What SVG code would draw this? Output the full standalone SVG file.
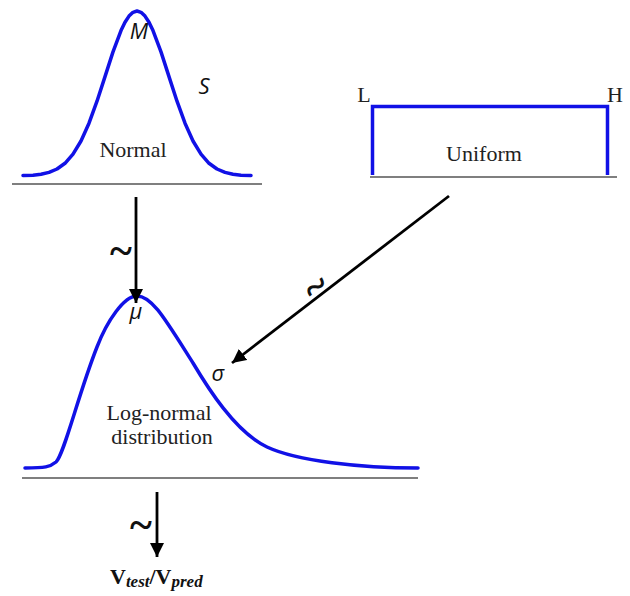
<svg xmlns="http://www.w3.org/2000/svg" width="630" height="596" viewBox="0 0 630 596">
<style>
.curve{fill:none;stroke:#1111e6;stroke-width:3.5;stroke-linejoin:round;stroke-linecap:round}
.base{stroke:#555;stroke-width:1.5}
.conn{stroke:#000;stroke-width:2.8;fill:none}
.lbl{font-family:"Liberation Serif",serif;font-size:22px;fill:#222;text-anchor:middle}
.var{font-family:"Open Sans","DejaVu Sans",sans-serif;font-style:italic;font-size:22px;fill:#111;text-anchor:middle}
.tilde{font-family:"Liberation Serif",serif;font-size:42px;font-weight:bold;fill:#111;text-anchor:middle}
</style>
<defs>
<marker id="ah" markerUnits="userSpaceOnUse" markerWidth="15" markerHeight="15" refX="14" refY="7" orient="auto">
<path d="M0,0 L14,7 L0,14 Z" fill="#000"/>
</marker>
</defs>
<rect width="630" height="596" fill="#fff"/>
<g id="normal">
<polyline class="curve" points="23,175.4 33,175.2 41,174.3 49,172.4 57,169 65,163.3 73,154.2 81,141 89,123.2 97,101.2 105,76.6 113,51.9 121,30.6 125,22.3 129,16.1 133,12.3 137,11 141,12.3 145,16.1 149,22.3 153,30.6 161,51.9 169,76.6 177,101.2 185,123.2 193,141 201,154.2 209,163.3 217,169 225,172.4 233,174.3 241,175.2 251,175.4"/>
<line class="base" x1="12" y1="184" x2="262" y2="184" stroke="#888"/>
<text class="var" x="139" y="39">M</text>
<text class="var" x="204" y="94">S</text>
<text class="lbl" x="133" y="157">Normal</text>
</g>
<g id="uniform">
<polyline class="curve" points="372.5,175 372.5,106.5 607.5,106.5 607.5,175" style="stroke-linecap:butt;stroke-linejoin:miter"/>
<line class="base" x1="370" y1="177" x2="617" y2="177" stroke="#222"/>
<text class="lbl" x="364" y="102">L</text>
<text class="lbl" x="615" y="102">H</text>
<text class="lbl" x="484" y="161">Uniform</text>
</g>
<g id="lognormal">
<path class="curve" d="M25,468 C45,468 50,467 56,462 C64,455 78,395 97,347 C107,321 124,296 137,296 C152,296 165,319 193,363 C207,386.5 235,432 267,447 C297,461 360,468 418,468"/>
<line class="base" x1="22" y1="478" x2="418" y2="478" stroke="#444"/>
<text class="var" x="136" y="319">μ</text>
<text class="var" x="218" y="381">σ</text>
<text class="lbl" x="159" y="420">Log-normal</text>
<text class="lbl" x="162" y="444">distribution</text>
</g>
<g id="output">
<text x="110" y="584" font-family="Liberation Serif,serif" font-weight="bold" font-size="22" fill="#111">V<tspan font-style="italic" font-size="17" dy="3">test</tspan><tspan dy="-3" font-size="22">/V</tspan><tspan font-style="italic" font-size="17" dy="3">pred</tspan></text>
</g>
<g id="connectors">
<line class="conn" x1="136" y1="197" x2="136" y2="303" marker-end="url(#ah)"/>
<text class="tilde" x="121" y="265">~</text>
<line class="conn" x1="449" y1="196" x2="232" y2="363" marker-end="url(#ah)"/>
<text class="tilde" x="0" y="0" transform="translate(324,298) rotate(-37)">~</text>
<line class="conn" x1="157" y1="492" x2="157" y2="557" marker-end="url(#ah)"/>
<text class="tilde" x="141" y="539">~</text>
</g>
</svg>
